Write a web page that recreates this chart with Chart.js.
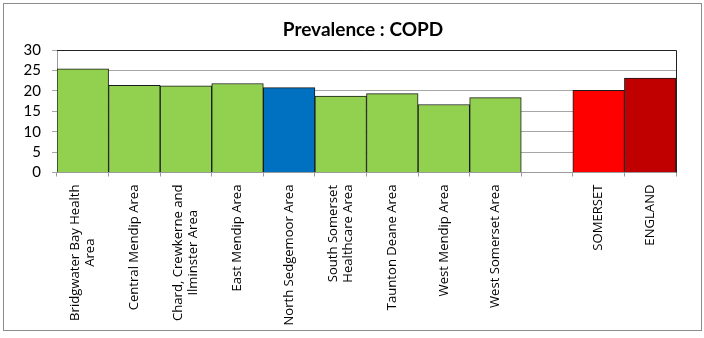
<!DOCTYPE html>
<html>
<head>
<meta charset="utf-8">
<script src="https://cdn.jsdelivr.net/npm/chart.js@4.4.1/dist/chart.umd.min.js"></script>
<style>
  html, body { margin: 0; padding: 0; background: #fff; }
  #wrap { position: absolute; left: 0; top: 0; width: 704px; height: 338px; }
</style>
</head>
<body>
<div id="wrap"><canvas id="c" width="704" height="338"></canvas></div>
<script>
const categories = [
  ["Bridgwater Bay Health", "Area"],
  "Central Mendip Area",
  ["Chard, Crewkerne and", "Ilminster Area"],
  "East Mendip Area",
  "North Sedgemoor Area",
  ["South Somerset", "Healthcare Area"],
  "Taunton Deane Area",
  "West Mendip Area",
  "West Somerset Area",
  "",
  "SOMERSET",
  "ENGLAND"
];
const prevalence = [25.4, 21.35, 21.2, 21.8, 20.8, 18.7, 19.3, 16.65, 18.35, null, 20.1, 23.1];
const barColours = ["#92D050", "#92D050", "#92D050", "#92D050", "#0070C0", "#92D050", "#92D050", "#92D050", "#92D050", "#92D050", "#FF0000", "#C00000"];
const yTicks = [0, 5, 10, 15, 20, 25, 30];
const chartTitle = "Prevalence : COPD";

const frame = {
  id: 'frame',
  beforeDraw(chart) {
    const ctx = chart.ctx;
    ctx.save();
    ctx.fillStyle = '#fff';
    ctx.fillRect(0, 0, chart.width, chart.height);
    ctx.strokeStyle = '#8c8c8c';
    ctx.lineWidth = 1;
    ctx.strokeRect(3.5, 3.5, 698, 327);
    ctx.restore();
  },
  afterLayout(chart) {
    // centre the title over the plot area as in the original
    if (chart.titleBlock) {
      chart.titleBlock.left = chart.chartArea.left - 7;
      chart.titleBlock.right = chart.chartArea.right;
    }
  },
  afterDatasetsDraw(chart) {
    const a = chart.chartArea;
    const ctx = chart.ctx;
    ctx.save();
    ctx.strokeStyle = '#222';
    ctx.lineWidth = 1;
    ctx.beginPath();
    ctx.moveTo(a.left, Math.round(a.top) + 0.5);
    ctx.lineTo(Math.round(a.right) + 0.5, Math.round(a.top) + 0.5);
    ctx.lineTo(Math.round(a.right) + 0.5, a.bottom);
    ctx.stroke();
    ctx.restore();
  }
};

new Chart(document.getElementById('c'), {
  type: 'bar',
  data: {
    labels: categories,
    datasets: [{
      data: prevalence,
      backgroundColor: barColours,
      borderColor: '#1a1a1a',
      borderWidth: 1,
      categoryPercentage: 1.0,
      barPercentage: 1.0
    }]
  },
  options: {
    responsive: false,
    animation: false,
    devicePixelRatio: 1,
    layout: { padding: { left: 0, right: 28, top: 0, bottom: 0 } },
    plugins: {
      legend: { display: false },
      tooltip: { enabled: false },
      title: {
        display: true,
        text: chartTitle,
        color: '#000',
        font: { family: 'Lato', size: 19, weight: 'bold', lineHeight: 1.2 },
        padding: { top: 18, bottom: 9.2 }
      }
    },
    scales: {
      x: {
        grid: { display: true, drawOnChartArea: false, color: '#9a9a9a', tickLength: 4, offset: true },
        border: { display: true, color: '#9a9a9a' },
        ticks: {
          color: '#000',
          maxRotation: 90, minRotation: 90,
          autoSkip: false,
          padding: 8,
          font: { family: 'Open Sans', size: 13.1, lineHeight: 1.15 }
        },
        afterFit(scale) { scale.height = 165.5; },
        afterUpdate(scale) {
          if (scale.__patched) return;
          scale.__patched = true;
          const orig = scale._computeLabelItems.bind(scale);
          scale._computeLabelItems = function (ca) {
            const items = orig(ca);
            const out = [];
            const ctx = scale.ctx;
            items.forEach(it => {
              if (!Array.isArray(it.label) || it.label.length < 2) { out.push(it); return; }
              const n = it.label.length;
              const lh = it.font.lineHeight;
              ctx.save();
              ctx.font = it.font.string;
              const widths = it.label.map(s => ctx.measureText(s).width);
              ctx.restore();
              const wmax = Math.max(...widths);
              it.label.forEach((line, i) => {
                const opts = Object.assign({}, it.options);
                opts.translation = [
                  it.options.translation[0] + i * lh - (n - 1) * lh / 2,
                  it.options.translation[1] + (wmax - widths[i]) / 2
                ];
                out.push({ label: line, font: it.font, textOffset: it.textOffset, options: opts });
              });
            });
            return out;
          };
        }
      },
      y: {
        min: 0, max: 30,
        afterBuildTicks(scale) { scale.ticks = yTicks.map(v => ({ value: v })); },
        grid: { color: '#a6a6a6', tickLength: 5 },
        border: { display: true, color: '#9a9a9a' },
        ticks: {
          color: '#000',
          autoSkip: false,
          padding: 11,
          font: { family: 'Lato', size: 15 }
        },
        afterFit(scale) { scale.width = 57; }
      }
    }
  },
  plugins: [frame]
});
</script>
</body>
</html>
